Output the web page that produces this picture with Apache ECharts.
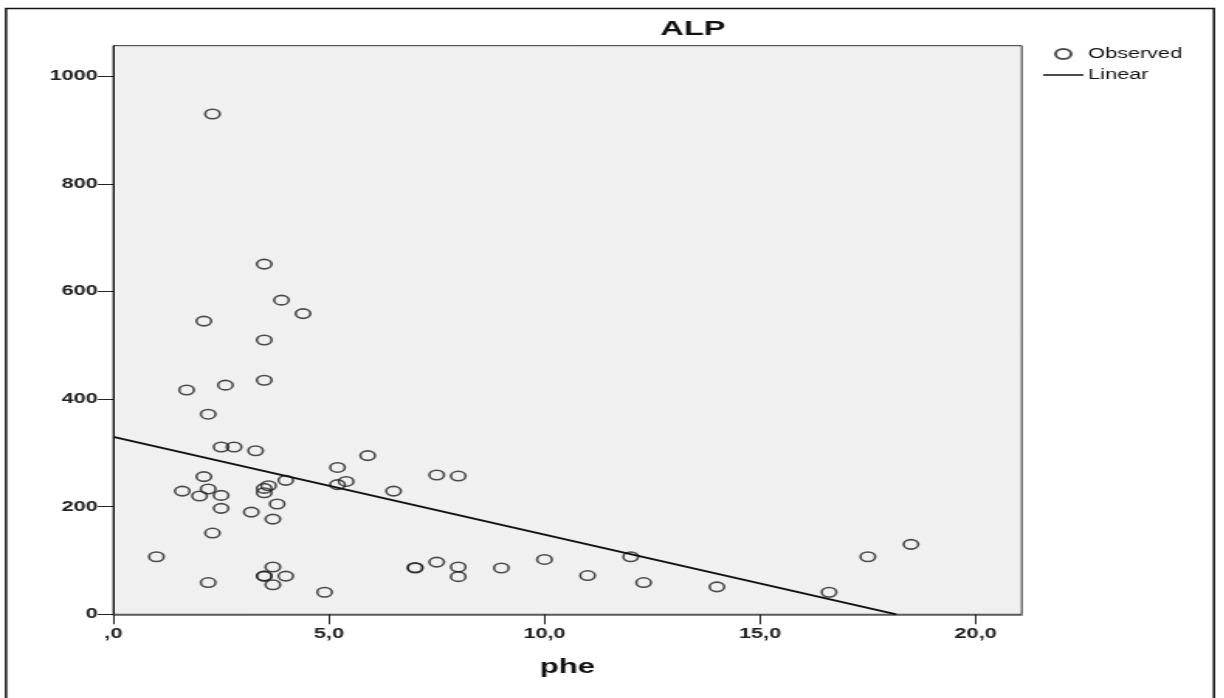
<!DOCTYPE html>
<html>
<head>
<meta charset="utf-8">
<script src="https://cdn.jsdelivr.net/npm/echarts@6/dist/echarts.min.js"></script>
<style>
  html, body { margin: 0; padding: 0; background: #ffffff; overflow: hidden; }
  /* the chart is laid out narrow and widened horizontally, giving the stretched look of the export */
  #chart { width: 790px; height: 698px; transform: scale(1.55, 1); transform-origin: 0 0; }
</style>
</head>
<body>
<div id="chart"></div>
<script>
// observed values: phe (x) and ALP (y)
const phe = [2.3, 3.5, 3.9, 4.4, 2.1, 3.5, 3.5, 1.7, 2.6, 2.2,
             2.5, 2.8, 3.3, 5.9, 5.2, 7.5, 8.0, 2.1, 4.0, 5.4,
             5.2, 1.6, 6.5, 2.2, 2.5, 2.0, 3.5, 3.6, 3.5, 3.8,
             2.5, 3.2, 3.7, 2.3, 1.0, 3.7, 3.5, 3.5, 4.0, 3.7,
             2.2, 4.9, 7.0, 7.0, 7.5, 8.0, 8.0, 9.0, 10.0, 11.0,
             12.0, 12.3, 14.0, 16.6, 17.5, 18.5];
const alp = [930, 651, 584, 559, 545, 510, 435, 417, 426, 372,
             311, 311, 304, 295, 273, 259, 257, 256, 249, 247,
             241, 229, 229, 233, 221, 220, 234, 239, 226, 205,
             197, 190, 177, 151, 107, 88, 71, 71, 71, 55,
             59, 41, 87, 86, 97, 88, 70, 86, 102, 72,
             107, 59, 51, 41, 107, 130];

// linear fit, drawn between its two end points
const fitX = [0, 18.16];
const fitY = [330, 0];

// axis ticks and labels
const yTicks = [0, 200, 400, 600, 800, 1000];
const xTicks = [0, 5, 10, 15, 20];
const xTickLabels = [',0', '5,0', '10,0', '15,0', '20,0'];

const observed = phe.map((v, i) => [v, alp[i]]);
const linear = fitX.map((v, i) => [v, fitY[i]]);

const FONT = 'Liberation Sans, Arial, sans-serif';
const chart = echarts.init(document.getElementById('chart'), null, { renderer: 'canvas' });

chart.setOption({
  animation: false,
  backgroundColor: '#ffffff',
  grid: {
    left: 73.1, top: 45.7, width: 586.1, height: 568.6,
    show: true, backgroundColor: '#f0f0f0', borderColor: '#333333', borderWidth: 1,
    outerBoundsMode: 'none'
  },
  legend: {
    orient: 'vertical',
    left: 673, top: 47,
    padding: 0,
    itemWidth: 26, itemHeight: 10, itemGap: 7,
    textStyle: { fontFamily: FONT, fontSize: 14, color: '#111111', padding: [0, 0, 0, -2] },
    data: [
      { name: 'Observed' },
      // plain horizontal stroke for the fit line key
      { name: 'Linear', icon: 'path://M0,0H26V1.5H0Z' }
    ]
  },
  xAxis: {
    type: 'value',
    min: 0, max: 21.07,
    name: 'phe', nameLocation: 'middle', nameGap: 43,
    nameTextStyle: { fontFamily: FONT, fontSize: 20, fontWeight: 'bold', color: '#111111' },
    axisLine: { show: true, onZero: false, lineStyle: { color: '#595959', width: 1.5 } },
    axisTick: { show: true, length: 10, customValues: xTicks, lineStyle: { color: '#222222', width: 1 } },
    axisLabel: {
      customValues: xTicks, margin: 13,
      fontFamily: FONT, fontSize: 14, fontWeight: 'bold', color: '#222222',
      formatter: v => xTickLabels[xTicks.indexOf(v)]
    },
    splitLine: { show: false }
  },
  yAxis: {
    type: 'value',
    min: 0, max: 1057,
    axisLine: { show: true, onZero: false, lineStyle: { color: '#111111', width: 1 } },
    axisTick: { show: true, length: 10, customValues: yTicks, lineStyle: { color: '#222222', width: 1 } },
    axisLabel: {
      customValues: yTicks, margin: 10,
      fontFamily: FONT, fontSize: 14, fontWeight: 'bold', color: '#222222',
      formatter: v => String(v)
    },
    splitLine: { show: false }
  },
  series: [
    {
      name: 'Observed',
      type: 'scatter',
      data: observed,
      symbol: 'circle',
      symbolSize: 9.5,
      itemStyle: { color: 'transparent', borderColor: '#222222', borderWidth: 1.6 }
    },
    {
      name: 'Linear',
      type: 'line',
      data: linear,
      symbol: 'none',
      lineStyle: { color: '#111111', width: 1.8 },
      itemStyle: { color: '#111111' }
    }
  ],
  graphic: [
    {
      type: 'rect',
      shape: { x: 3.9, y: 8.5, width: 779.3, height: 710 },
      style: { fill: 'none', stroke: '#111111', lineWidth: 1.5 },
      silent: true, z: 0
    },
    {
      type: 'text',
      x: 447, y: 29,
      style: { text: 'ALP', font: 'bold 21px ' + FONT, fill: '#111111', align: 'center', verticalAlign: 'middle' },
      silent: true
    }
  ]
});
</script>
</body>
</html>
